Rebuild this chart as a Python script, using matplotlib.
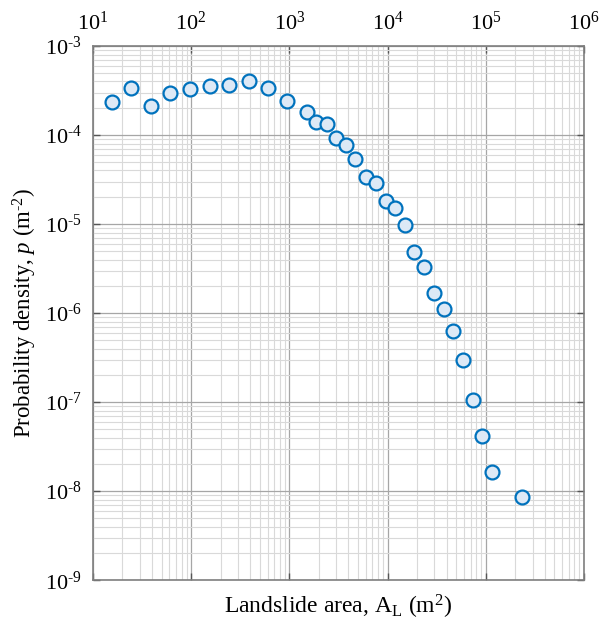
"""
Landslide area vs probability density, log-log scatter.
"""

import matplotlib
matplotlib.use("Agg")
import matplotlib.pyplot as plt
import numpy as np
from matplotlib.ticker import FuncFormatter, LogLocator, NullFormatter

plt.rcParams["font.family"] = ["Liberation Serif", "DejaVu Serif"]
plt.rcParams["mathtext.fontset"] = "custom"
plt.rcParams["mathtext.rm"] = "Liberation Serif"
plt.rcParams["mathtext.it"] = "Liberation Serif:italic"

# landslide area (m^2)
area = [15.5, 24.4, 38.7, 61.2, 97, 154, 244, 385, 605, 953,
        1500, 1880, 2400, 3000, 3770, 4710, 6030, 7620, 9570, 11900,
        15000, 18700, 23500, 29500, 37200, 46600, 58600, 73600, 92100, 117000,
        235000]
# probability density (m^-2)
density = [2.33e-4, 3.40e-4, 2.13e-4, 2.94e-4, 3.29e-4, 3.58e-4, 3.67e-4, 4.07e-4, 3.35e-4, 2.41e-4,
           1.83e-4, 1.40e-4, 1.34e-4, 9.18e-5, 7.78e-5, 5.33e-5, 3.40e-5, 2.91e-5, 1.83e-5, 1.51e-5,
           9.75e-6, 4.84e-6, 3.31e-6, 1.69e-6, 1.12e-6, 6.32e-7, 3.01e-7, 1.07e-7, 4.22e-8, 1.66e-8,
           8.63e-9]


def pow10_label(v, pos):
    # short hyphen in the exponent, as in the original figure
    e = int(round(np.log10(v)))
    if e < 0:
        return r"10$^{\text{-}%d}$" % (-e)
    return r"10$^{%d}$" % e


fig = plt.figure(figsize=(6.07, 6.30), dpi=100)
ax = fig.add_axes([0.153, 0.079, 0.809, 0.848])

ax.plot(area, density, linestyle="none", marker="o", markersize=10,
        markerfacecolor="#dde9f6", markeredgecolor="#0072bd",
        markeredgewidth=1.6, zorder=3)

ax.set_xscale("log")
ax.set_yscale("log")
ax.set_xlim(1e1, 1e6)
ax.set_ylim(1e-9, 1e-3)

ax.xaxis.set_major_locator(LogLocator(base=10, numticks=10))
ax.yaxis.set_major_locator(LogLocator(base=10, numticks=10))
ax.xaxis.set_minor_locator(LogLocator(base=10, subs=range(2, 10), numticks=20))
ax.yaxis.set_minor_locator(LogLocator(base=10, subs=range(2, 10), numticks=20))
ax.xaxis.set_major_formatter(FuncFormatter(pow10_label))
ax.yaxis.set_major_formatter(FuncFormatter(pow10_label))
ax.xaxis.set_minor_formatter(NullFormatter())
ax.yaxis.set_minor_formatter(NullFormatter())

ax.grid(True, which="major", color="#a6a6a6", linewidth=0.9)
ax.grid(True, which="minor", color="#d9d9d9", linewidth=0.8)
ax.set_axisbelow(True)

ax.tick_params(which="major", direction="in", length=5, width=1.0, color="#555555",
               top=True, right=True, labeltop=True, labelbottom=False,
               labelsize=16)
ax.tick_params(axis="x", which="major", pad=8)
ax.tick_params(axis="y", which="major", pad=8)
ax.tick_params(which="minor", length=0)
for sp in ax.spines.values():
    sp.set_color("#7f7f7f")
    sp.set_linewidth(1.2)

ax.set_xlabel(r"Landslide area, A$_{\rm L}$ (m$^{2}$)", fontsize=17, labelpad=6)
ax.set_ylabel(r"Probability density, $\it{p}$ (m$^{\text{-}2}$)", fontsize=16.5, labelpad=4)

fig.savefig("out.png", dpi=100)
